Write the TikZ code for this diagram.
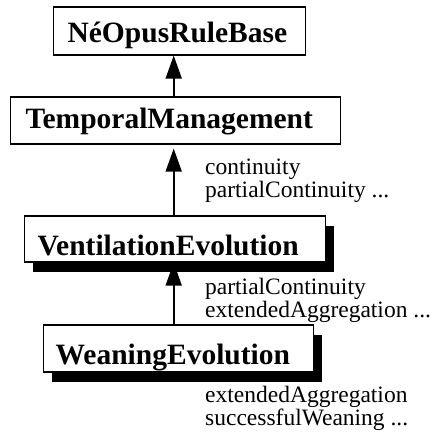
\documentclass[tikz,border=0pt]{standalone}
\usepackage{fontspec}
\setmainfont{Liberation Serif}
\usetikzlibrary{arrows.meta,shadows}

\tikzset{
  classbox/.style={draw=black, line width=1.2pt, fill=white, rectangle,
    anchor=base west, align=left, inner ysep=0pt,
    font=\fontsize{29.5}{30}\selectfont\bfseries},
  shadowed/.style={drop shadow={shadow xshift=8.5pt, shadow yshift=-9.5pt,
    opacity=1, fill=black}},
  inherit/.style={line width=1.8pt, -{Triangle[length=23pt,width=16pt]}},
  rulelist/.style={anchor=base west, align=left, inner sep=0pt,
    font=\fontsize{23.5}{22.5}\selectfont}
}

\begin{document}
\begin{tikzpicture}[x=1pt, y=-1pt]
  \useasboundingbox (0,0) rectangle (433,436);

  % class boxes: (left edge, baseline), text width = box width - 2*padding
  \node[classbox, inner xsep=14.5pt, text width=223.5pt, text height=35pt, text depth=13pt]
    (base) at (52.5,42) {NéOpusRuleBase};
  \node[classbox, inner xsep=15pt, text width=300pt, text height=31pt, text depth=16pt]
    (temporal) at (10,128) {TemporalManagement};
  \node[classbox, shadowed, inner xsep=13pt, text width=275pt, text height=39pt, text depth=7pt]
    (ventil) at (24,255) {VentilationEvolution};
  \node[classbox, shadowed, inner xsep=12pt, text width=246pt, text height=39pt, text depth=8pt]
    (weaning) at (43,364) {WeaningEvolution};

  % common x of the inheritance arrows
  \coordinate (ax) at (173.7,0);

  \draw[inherit] (temporal.north -| ax) -- (base.south -| ax);
  \draw[inherit, shorten >=4pt] (ventil.north -| ax) -- (temporal.south -| ax);
  \draw[inherit] (weaning.north -| ax) -- (ventil.south -| ax);

  % rule lists (anchored at the baseline of their last line)
  \node[rulelist] (r1) at (205,197) {continuity\\partialContinuity ...};
  \node[rulelist] (r2) at (205,317) {partialContinuity\\extendedAggregation ...};
  \node[rulelist] (r3) at (205,425) {extendedAggregation\\successfulWeaning ...};
\end{tikzpicture}
\end{document}
